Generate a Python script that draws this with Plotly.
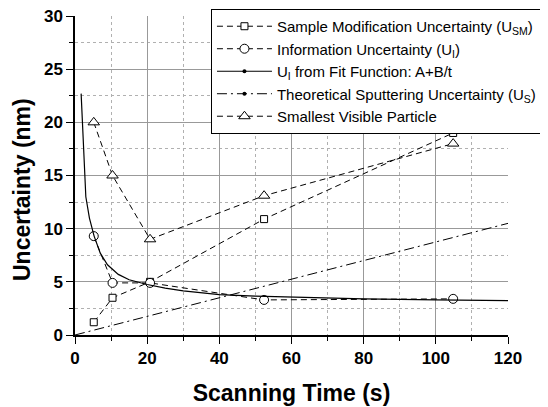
import plotly.graph_objects as go

# ---- data ----
scan_time = [5.2, 10.4, 20.8, 52.4, 104.8]
u_sm = [1.2, 3.5, 5.0, 10.9, 19.0]
u_i = [9.3, 4.9, 4.9, 3.3, 3.4]
smallest_particle = [20.0, 15.0, 9.0, 13.1, 18.0]

fit_t = [1.7, 3.0, 4.0, 5.3, 7.0, 9.0, 12.0, 15.0, 20.0, 25.0, 30.0, 40.0, 50.0, 60.0, 80.0, 100.0, 120.0]
fit_u = [22.7, 13.0, 11.0, 9.3, 7.7, 6.6, 5.7, 5.2, 4.75, 4.4, 4.15, 3.8, 3.65, 3.55, 3.4, 3.3, 3.23]

sputter_t = [0.0, 120.0]
sputter_u = [0.0, 10.5]

names = [
    "Sample Modification Uncertainty (U<sub>SM</sub>)&nbsp;&nbsp;&nbsp;",
    "Information Uncertainty (U<sub>I</sub>)",
    "U<sub>I</sub> from Fit Function: A+B/t",
    "Theoretical Sputtering Uncertainty (U<sub>S</sub>)&nbsp;&nbsp;&nbsp;",
    "Smallest Visible Particle",
]

FONT = "Liberation Sans, Arial, sans-serif"
dash = "6px,4px"
dashdot = "10px,4px,2px,4px"

fig = go.Figure()

fig.add_trace(go.Scatter(x=scan_time, y=u_sm, name=names[0], mode="lines+markers",
                         line=dict(color="black", width=1, dash=dash),
                         marker=dict(symbol="square", size=7, color="white",
                                     line=dict(color="black", width=1))))
fig.add_trace(go.Scatter(x=scan_time, y=u_i, name=names[1], mode="lines+markers",
                         line=dict(color="black", width=1, dash=dash),
                         marker=dict(symbol="circle", size=9, color="white",
                                     line=dict(color="black", width=1))))
fig.add_trace(go.Scatter(x=[None], y=[None], name=names[2], mode="lines+markers",
                         line=dict(color="black", width=1.2),
                         marker=dict(symbol="circle", size=4, color="black")))
fig.add_trace(go.Scatter(x=[None], y=[None], name=names[3], mode="lines+markers",
                         line=dict(color="black", width=1, dash=dashdot),
                         marker=dict(symbol="circle", size=4, color="black")))
fig.add_trace(go.Scatter(x=scan_time, y=smallest_particle, name=names[4], mode="lines+markers",
                         line=dict(color="black", width=1, dash=dash),
                         marker=dict(symbol="triangle-up", size=10, color="white",
                                     line=dict(color="black", width=1))))

fig.add_trace(go.Scatter(x=fit_t, y=fit_u, mode="lines", showlegend=False,
                         line=dict(color="black", width=1.2)))
fig.add_trace(go.Scatter(x=sputter_t, y=sputter_u, mode="lines", showlegend=False,
                         line=dict(color="black", width=1, dash=dashdot)))

axis_common = dict(
    showline=True, linecolor="black", linewidth=1.5,
    ticks="outside", ticklen=7, tickwidth=1.3, tickcolor="black",
    showgrid=True, gridcolor="#999999", gridwidth=1,
    zeroline=False, mirror=False, ticklabeloverflow="allow",
    tickfont=dict(family=FONT, size=17, color="black", weight="bold"),
)

fig.update_xaxes(
    range=[0, 120], dtick=20, tick0=0,
    title=dict(text="Scanning Time (s)", standoff=18,
               font=dict(family=FONT, size=23, color="black", weight="bold")),
    minor=dict(dtick=10, ticks="outside", ticklen=4, tickcolor="black",
               showgrid=True, gridcolor="#b0b0b0", griddash="dot", gridwidth=1),
    **axis_common,
)
fig.update_yaxes(
    range=[0, 30], dtick=5, tick0=0,
    minor=dict(dtick=2.5, ticks="outside", ticklen=4, tickcolor="black",
               showgrid=True, gridcolor="#b0b0b0", griddash="dot", gridwidth=1),
    **axis_common,
)

fig.add_annotation(text="Uncertainty (nm)", textangle=-90,
                   xref="paper", yref="paper", x=-0.122, y=0.455,
                   xanchor="center", yanchor="middle", showarrow=False,
                   font=dict(family=FONT, size=23, color="black", weight="bold"))

fig.update_layout(
    width=540, height=399,
    margin=dict(l=67, r=40, t=8, b=72, autoexpand=False),
    paper_bgcolor="white", plot_bgcolor="white",
    font=dict(family=FONT, color="black"),
    legend=dict(x=0.314, y=1.022, xanchor="left", yanchor="top",
                bgcolor="white", bordercolor="black", borderwidth=1,
                font=dict(family=FONT, size=15, color="black"),
                itemwidth=55, tracegroupgap=0),
)

fig.write_html("out.html")
